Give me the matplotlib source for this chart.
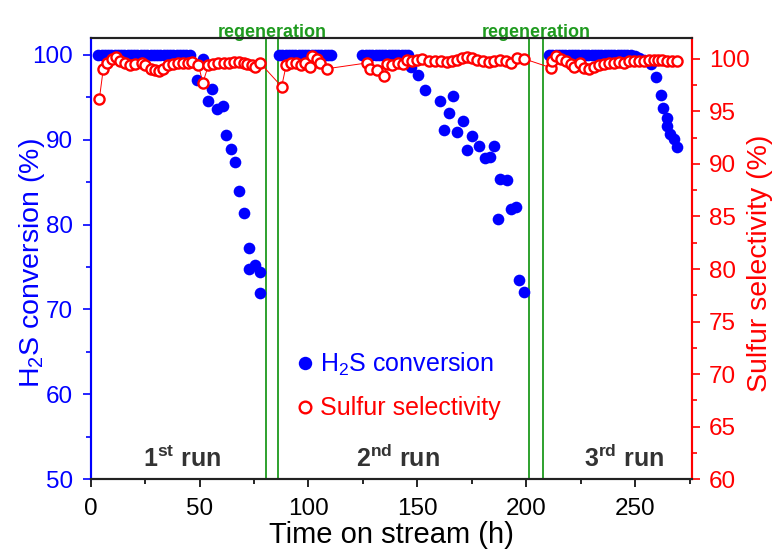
import matplotlib
matplotlib.use("Agg")
import matplotlib.pyplot as plt
from matplotlib.ticker import MultipleLocator
import matplotlib.transforms as mtransforms

plt.rcParams['font.family'] = ['Liberation Sans', 'DejaVu Sans']
plt.rcParams['mathtext.fontset'] = 'custom'
plt.rcParams['mathtext.rm'] = 'Liberation Sans'
plt.rcParams['mathtext.bf'] = 'Liberation Sans:bold'

# H2S conversion (%) vs time (h)
conv_t = [3.5, 5.0, 6.5, 8.0, 9.5, 11.0, 12.5, 14.0, 15.5, 17.0, 18.5, 20.0, 21.5, 23.0, 24.5,
          26.0, 27.5, 29.0, 30.5, 32.0, 33.5, 35.0, 36.5, 38.0, 39.5, 41.0, 42.5, 44.0, 45.5,
          48.7, 51.8, 54.1, 55.6, 57.9, 60.7, 62.1, 64.4, 66.3, 68.2, 70.2, 72.5, 72.9, 75.5, 77.8, 77.8,
          86.5, 88.0, 89.5, 91.0, 92.5, 94.0, 95.5, 97.0, 98.5, 100.0, 101.5, 103.0, 104.5, 106.0,
          107.5, 109.0, 110.5,
          124.8, 126.3, 127.8, 129.3, 130.8, 132.3, 133.8, 135.3, 136.8, 138.3, 139.8, 141.3,
          142.8, 144.3, 145.5,
          147.3, 150.3, 153.7, 160.6, 162.4, 164.7, 166.4, 168.3, 171.0, 172.6, 174.9, 178.2,
          181.3, 183.6, 185.1, 187.0, 188.2, 191.3, 192.8, 195.1, 196.6, 198.9,
          210.5, 212.0, 213.5, 215.0, 216.5, 218.0, 219.5, 221.0, 222.5, 224.0, 225.5, 227.0,
          228.5, 230.0, 231.5, 233.0, 234.5, 236.0, 237.5, 239.0, 240.5, 242.0, 243.5, 245.0,
          246.5, 248.0, 250.0, 252.0, 254.0,
          257.2, 259.4, 261.8, 263.0, 264.5, 264.8, 266.0, 267.9, 269.1]
conv_v = [100] * 29 + \
         [97.0, 99.5, 94.6, 96.0, 93.6, 93.9, 90.6, 88.9, 87.4, 84.0, 81.4, 74.8, 77.2, 75.2, 74.4, 71.9] + \
         [100] * 17 + \
         [100] * 15 + \
         [98.6, 97.6, 95.8, 94.6, 91.1, 93.1, 95.1, 90.9, 92.2, 88.8, 90.4, 89.3,
          87.8, 88.0, 89.3, 80.6, 85.4, 85.2, 81.8, 82.1, 73.5, 72.1] + \
         [100] * 26 + [99.8, 99.6, 99.4] + \
         [98.9, 97.4, 95.2, 93.7, 92.5, 91.6, 90.7, 90.1, 89.1]

# Sulfur selectivity (%) vs time (h)
sel_t = [4.0, 5.8, 7.4, 9.7, 11.6, 13.5, 15.6, 18.1, 20.4, 23.4, 24.9, 27.6, 29.6, 31.4,
         33.3, 35.6, 37.7, 40.3, 42.6, 44.9, 46.5, 49.5, 51.5, 54.1, 56.4, 58.7, 61.0,
         63.3, 65.6, 67.9, 70.2, 71.7, 74.0, 75.5, 77.8,
         87.7, 89.8, 92.0, 94.4, 96.6, 98.5, 100.5, 101.6, 103.9, 105.4, 108.5,
         126.9, 128.4, 131.5, 134.9, 136.1, 138.4, 141.0, 143.4, 145.3, 147.6, 149.9,
         152.2, 155.2, 158.3, 160.9, 163.7, 165.9, 168.2, 170.6, 172.9, 175.2, 177.5,
         180.2, 182.8, 185.4, 187.9, 190.5, 192.8, 195.9, 198.9,
         211.2, 212.0, 213.9, 215.8, 218.1, 220.4, 221.9, 224.7, 226.6, 228.8, 231.1,
         233.4, 235.7, 238.0, 240.3, 242.6, 244.9, 247.2, 249.5, 251.8, 254.1, 256.4,
         258.7, 260.5, 262.5, 264.8, 267.1, 269.1]
sel_v = [96.2, 99.05, 99.6, 100.0, 100.2, 99.8, 99.6, 99.4, 99.5, 99.6, 99.4, 99.05, 98.9, 98.8,
         99.05, 99.4, 99.5, 99.6, 99.6, 99.6, 99.7, 99.4, 97.7, 99.4, 99.5, 99.6, 99.6,
         99.6, 99.7, 99.7, 99.6, 99.5, 99.4, 99.2, 99.6,
         97.35, 99.4, 99.6, 99.6, 99.4, 99.6, 99.2, 100.3, 100.0, 99.6, 99.05,
         99.6, 99.0, 98.9, 98.35, 99.5, 99.4, 99.6, 99.5, 99.9, 99.8, 99.85,
         99.95, 99.8, 99.8, 99.8, 99.7, 99.8, 99.9, 100.1, 100.2, 100.1, 99.85,
         99.8, 99.7, 99.8, 99.9, 99.8, 99.6, 100.1, 100.0,
         99.15, 99.8, 100.3, 100.0, 99.8, 99.5, 99.2, 99.6, 99.15, 99.05, 99.2,
         99.4, 99.5, 99.6, 99.6, 99.7, 99.6, 99.8, 99.8, 99.8, 99.8, 99.85,
         99.9, 99.85, 99.9, 99.8, 99.8, 99.8]

regen_lines = [80.3, 86.0, 201.3, 207.8]
regen_labels = [83.2, 204.6]
run_pos = [42.0, 141.2, 244.8]
run_labels = ['1$^{\\mathregular{st}}$ run', '2$^{\\mathregular{nd}}$ run', '3$^{\\mathregular{rd}}$ run']

blue = '#0000ff'
red = '#ff0000'
green = '#1e9a1e'

fig = plt.figure(figsize=(7.77, 5.52), dpi=100)
ax = fig.add_axes([0.1167, 0.1317, 0.7735, 0.800])
ax2 = ax.twinx()

h1, = ax.plot(conv_t, conv_v, 'o', color=blue, ms=8.4, mew=0, label='H$_\\mathregular{2}$S conversion')
h2, = ax2.plot(sel_t, sel_v, '-o', color=red, lw=0.7, ms=7.3, mew=1.7, mfc='white', mec=red,
               label='Sulfur selectivity')

for x in regen_lines:
    ax.axvline(x, color=green, lw=1.3, zorder=0)

trans = mtransforms.blended_transform_factory(ax.transData, ax.transAxes)
for x in regen_labels:
    ax.text(x, 1.011, 'regeneration', transform=trans, ha='center', va='center',
            color=green, fontsize=13, fontweight='bold',
            family=['Liberation Sans Narrow', 'Liberation Sans'])
for x, s in zip(run_pos, run_labels):
    ax.text(x, 51.45, s, ha='center', va='baseline', fontsize=18, fontweight='bold', color='#333333')

ax.set_xlim(0, 276)
ax.set_ylim(50, 102)
ax2.set_ylim(60, 102)

ax.xaxis.set_major_locator(MultipleLocator(50))
ax.xaxis.set_minor_locator(MultipleLocator(25))
ax.yaxis.set_major_locator(MultipleLocator(10))
ax.yaxis.set_minor_locator(MultipleLocator(5))
ax2.yaxis.set_major_locator(MultipleLocator(5))
ax2.yaxis.set_minor_locator(MultipleLocator(2.5))

ax.tick_params(axis='both', which='both', direction='out', labelsize=17.5, width=1.2)
ax.tick_params(which='major', length=6)
ax.tick_params(which='minor', length=3.5)
ax.tick_params(axis='x', which='major', pad=7.5)
ax.tick_params(axis='y', which='major', pad=6.5)
ax.tick_params(axis='y', which='both', colors=blue)
ax2.tick_params(axis='y', which='both', colors=red, direction='out', labelsize=17.5, width=1.2)
ax2.tick_params(which='major', length=6, pad=6.5)
ax2.tick_params(which='minor', length=3.5)

for a in (ax, ax2):
    a.spines['top'].set_color('#222222')
    a.spines['bottom'].set_color('#222222')
    for s in a.spines.values():
        s.set_linewidth(1.5)
ax.spines['left'].set_color(blue)
ax2.spines['left'].set_color(blue)
ax2.spines['right'].set_color(red)
ax.spines['right'].set_color(red)

ax.set_xlabel('Time on stream (h)', fontsize=21)
ax.set_ylabel('H$_\\mathregular{2}$S conversion (%)', fontsize=20.5, color=blue)
ax2.set_ylabel('Sulfur selectivity (%)', fontsize=20.5, color=red, rotation=90)
ax.xaxis.set_label_coords(0.5, -0.095)
ax.yaxis.set_label_coords(-0.073, 0.49)
ax2.yaxis.set_label_coords(1.092, 0.49)

leg = ax2.legend(handles=[h1, h2], loc='upper left', bbox_to_anchor=(0.34, 0.291),
                 frameon=False, fontsize=18, handlelength=0.8, handletextpad=0.2,
                 borderpad=0, borderaxespad=0, labelspacing=0.74, markerscale=1.15)
for t, c in zip(leg.get_texts(), [blue, red]):
    t.set_color(c)
for lh in leg.get_lines():
    lh.set_linestyle('None')

fig.savefig('out.png', dpi=100)
